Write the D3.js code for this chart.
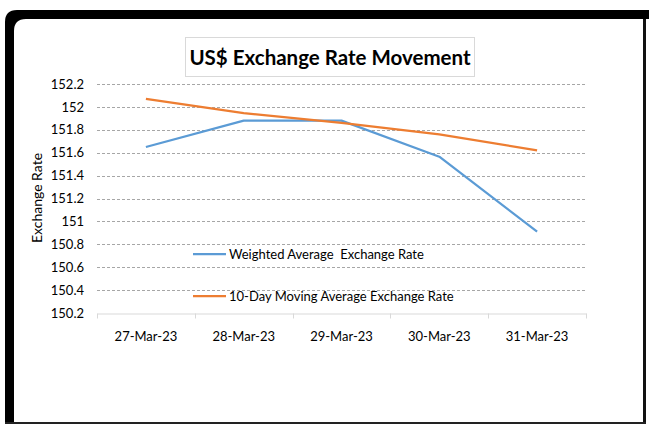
<!DOCTYPE html>
<html>
<head>
<meta charset="utf-8">
<script src="https://cdn.jsdelivr.net/npm/d3@7"></script>
<style>
  body { margin: 0; background: #fff; }
  svg { display: block; font-family: Lato, 'Open Sans', sans-serif; }
</style>
</head>
<body>
<div id="chart"></div>
<script>
const dates = ['27-Mar-23', '28-Mar-23', '29-Mar-23', '30-Mar-23', '31-Mar-23'];
const weightedAvg = [151.65, 151.88, 151.88, 151.565, 150.91];
const movingAvg10 = [152.07, 151.945, 151.86, 151.76, 151.62];
const yTicks = [150.2, 150.4, 150.6, 150.8, 151, 151.2, 151.4, 151.6, 151.8, 152, 152.2];
const seriesNames = ['Weighted Average  Exchange Rate', '10-Day Moving Average Exchange Rate'];
const seriesColors = ['#5b9bd5', '#ed7d31'];

const width = 649;
const height = 426;
const margin = { top: 84, right: 63, bottom: 113, left: 97 };

const svg = d3.select('#chart')
  .append('svg')
  .attr('width', width)
  .attr('height', height);

// frame: thick top / left with rounded corner, thin right / bottom
svg.append('path')
  .attr('d', 'M5,424 L5,22 Q5,10 17,10 L649,10 L649,19 L26,19 Q14,19 14,31 L14,424 Z')
  .attr('fill', '#000');
svg.append('rect')
  .attr('x', 643).attr('y', 19)
  .attr('width', 3).attr('height', 405)
  .attr('fill', '#111');
svg.append('rect')
  .attr('x', 5).attr('y', 422)
  .attr('width', 641).attr('height', 2)
  .attr('fill', '#222');

// title box
svg.append('rect')
  .attr('x', 185.5).attr('y', 37.5)
  .attr('width', 289).attr('height', 39)
  .attr('fill', '#fff')
  .attr('stroke', '#d9d9d9');
svg.append('text')
  .attr('x', 330).attr('y', 65)
  .attr('text-anchor', 'middle')
  .attr('font-size', 20.5)
  .attr('font-weight', 'bold')
  .attr('fill', '#000')
  .text('US$ Exchange Rate Movement');

const x = d3.scaleBand()
  .domain(dates)
  .range([margin.left, width - margin.right]);

const y = d3.scaleLinear()
  .domain([150.2, 152.2])
  .range([height - margin.bottom, margin.top]);

// gridlines
svg.append('g')
  .selectAll('line')
  .data(yTicks.slice(1))
  .join('line')
  .attr('x1', margin.left)
  .attr('x2', width - margin.right)
  .attr('y1', d => Math.round(y(d)) + 0.5)
  .attr('y2', d => Math.round(y(d)) + 0.5)
  .attr('stroke', '#a6a6a6')
  .attr('stroke-dasharray', '3,2');

// y axis labels
const yAxis = svg.append('g')
  .attr('transform', `translate(${margin.left}, 0)`)
  .call(d3.axisLeft(y).tickValues(yTicks).tickSize(0).tickPadding(13).tickFormat(d3.format('')));
yAxis.select('.domain').remove();
yAxis.selectAll('text')
  .attr('font-size', 13)
  .attr('font-family', 'Lato, sans-serif')
  .attr('fill', '#000');

// x axis
const xAxis = svg.append('g')
  .attr('transform', `translate(0, ${Math.round(y(150.2)) + 0.5})`)
  .call(d3.axisBottom(x).tickSize(0).tickPadding(18));
xAxis.select('.domain').attr('stroke', '#d9d9d9');
xAxis.selectAll('text')
  .attr('font-size', 13)
  .attr('font-family', 'Lato, sans-serif')
  .attr('fill', '#000');
xAxis.selectAll('.sep')
  .data(d3.range(dates.length + 1))
  .join('line')
  .attr('class', 'sep')
  .attr('x1', i => Math.round(margin.left + i * x.step()) + 0.5)
  .attr('x2', i => Math.round(margin.left + i * x.step()) + 0.5)
  .attr('y1', 0)
  .attr('y2', 5)
  .attr('stroke', '#d9d9d9');

// y axis title
svg.append('text')
  .attr('transform', `translate(42, 198) rotate(-90)`)
  .attr('text-anchor', 'middle')
  .attr('font-size', 14)
  .attr('fill', '#000')
  .text('Exchange Rate');

// lines
const line = d3.line()
  .x((d, i) => x(dates[i]) + x.bandwidth() / 2)
  .y(d => y(d));

[weightedAvg, movingAvg10].forEach((series, i) => {
  svg.append('path')
    .datum(series)
    .attr('d', line)
    .attr('fill', 'none')
    .attr('stroke', seriesColors[i])
    .attr('stroke-width', 2.25)
    .attr('stroke-linejoin', 'round');
});

// legend
const legendY = [254, 296];
seriesNames.forEach((name, i) => {
  svg.append('line')
    .attr('x1', 193).attr('x2', 226)
    .attr('y1', legendY[i]).attr('y2', legendY[i])
    .attr('stroke', seriesColors[i])
    .attr('stroke-width', 2.25);
  svg.append('text')
    .attr('x', 229)
    .attr('y', legendY[i] + 5)
    .attr('font-size', 13)
    .attr('fill', '#000')
    .attr('xml:space', 'preserve')
    .style('white-space', 'pre')
    .text(name);
});
</script>
</body>
</html>
